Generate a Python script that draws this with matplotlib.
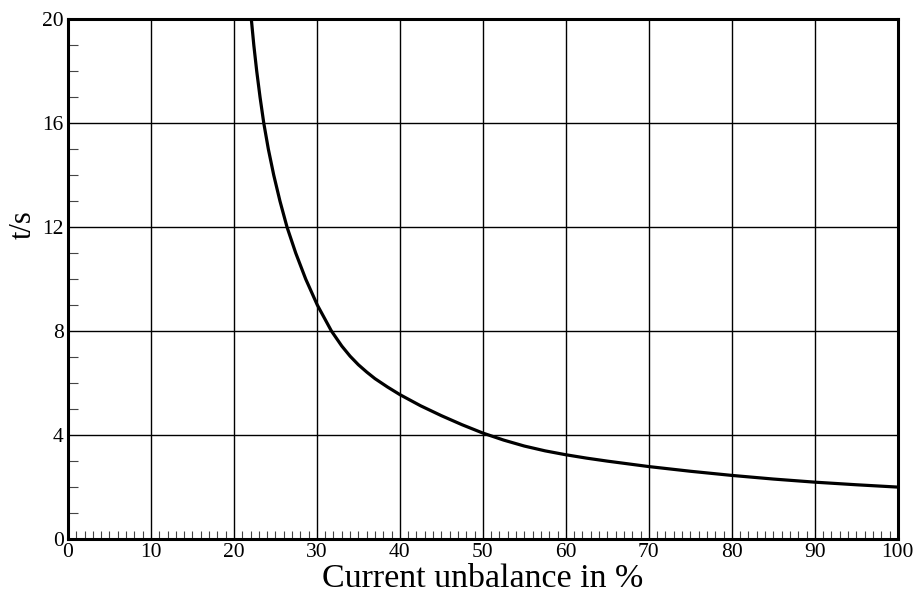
import numpy as np
import matplotlib
matplotlib.use("Agg")
import matplotlib.pyplot as plt
from matplotlib.ticker import MultipleLocator

# Values
unbalance = [22.1, 22.4, 22.75, 23.15, 23.6, 24.15, 24.8, 25.55, 26.4, 27.45,
             28.65, 30.05, 31.75, 33.0, 34.0, 35.0, 36.0, 37.0, 38.5, 40.0,
             42.5, 45.0, 47.5, 50.0, 52.5, 55.0, 57.5, 60.0, 62.5, 65.0,
             70.0, 75.0, 80.0, 85.0, 90.0, 95.0, 100.0]
time_s = [20.0, 19.0, 18.0, 17.0, 16.0, 15.0, 14.0, 13.0, 12.0, 11.0,
          10.0, 9.0, 8.0, 7.42, 7.03, 6.70, 6.42, 6.165, 5.845, 5.55,
          5.12, 4.74, 4.39, 4.07, 3.80, 3.57, 3.385, 3.235, 3.105, 2.99,
          2.78, 2.60, 2.44, 2.30, 2.18, 2.08, 1.99]

x_ticks = [0, 10, 20, 30, 40, 50, 60, 70, 80, 90, 100]
y_ticks = [0, 4, 8, 12, 16, 20]

plt.rcParams['font.family'] = ['Liberation Serif', 'DejaVu Serif']

fig = plt.figure(figsize=(9.18, 6.02), dpi=100)
ax = fig.add_axes([0.074, 0.105, 0.904, 0.863])

ax.plot(unbalance, time_s, color='black', lw=2.3, solid_joinstyle='round', zorder=3)

ax.set_xlim(0, 100)
ax.set_ylim(0, 20)
ax.set_xticks(x_ticks)
ax.set_yticks(y_ticks)
ax.xaxis.set_minor_locator(MultipleLocator(1))
ax.yaxis.set_minor_locator(MultipleLocator(1))

ax.grid(True, which='major', color='black', lw=1.0)
ax.tick_params(which='major', direction='in', length=0, labelsize=15.5, pad=3)
ax.tick_params(axis='x', which='minor', direction='in', length=6, width=0.8, color='#444444')
ax.tick_params(axis='y', which='minor', direction='in', length=7, width=0.8, color='#444444')

for sp in ax.spines.values():
    sp.set_linewidth(2.2)
    sp.set_zorder(4)

ax.set_xlabel("Current unbalance in %", fontsize=24.5, labelpad=1)
ax.set_ylabel("t/s", fontsize=22)
ax.yaxis.set_label_coords(-0.036, 0.604)

fig.savefig("out.png", dpi=100)
